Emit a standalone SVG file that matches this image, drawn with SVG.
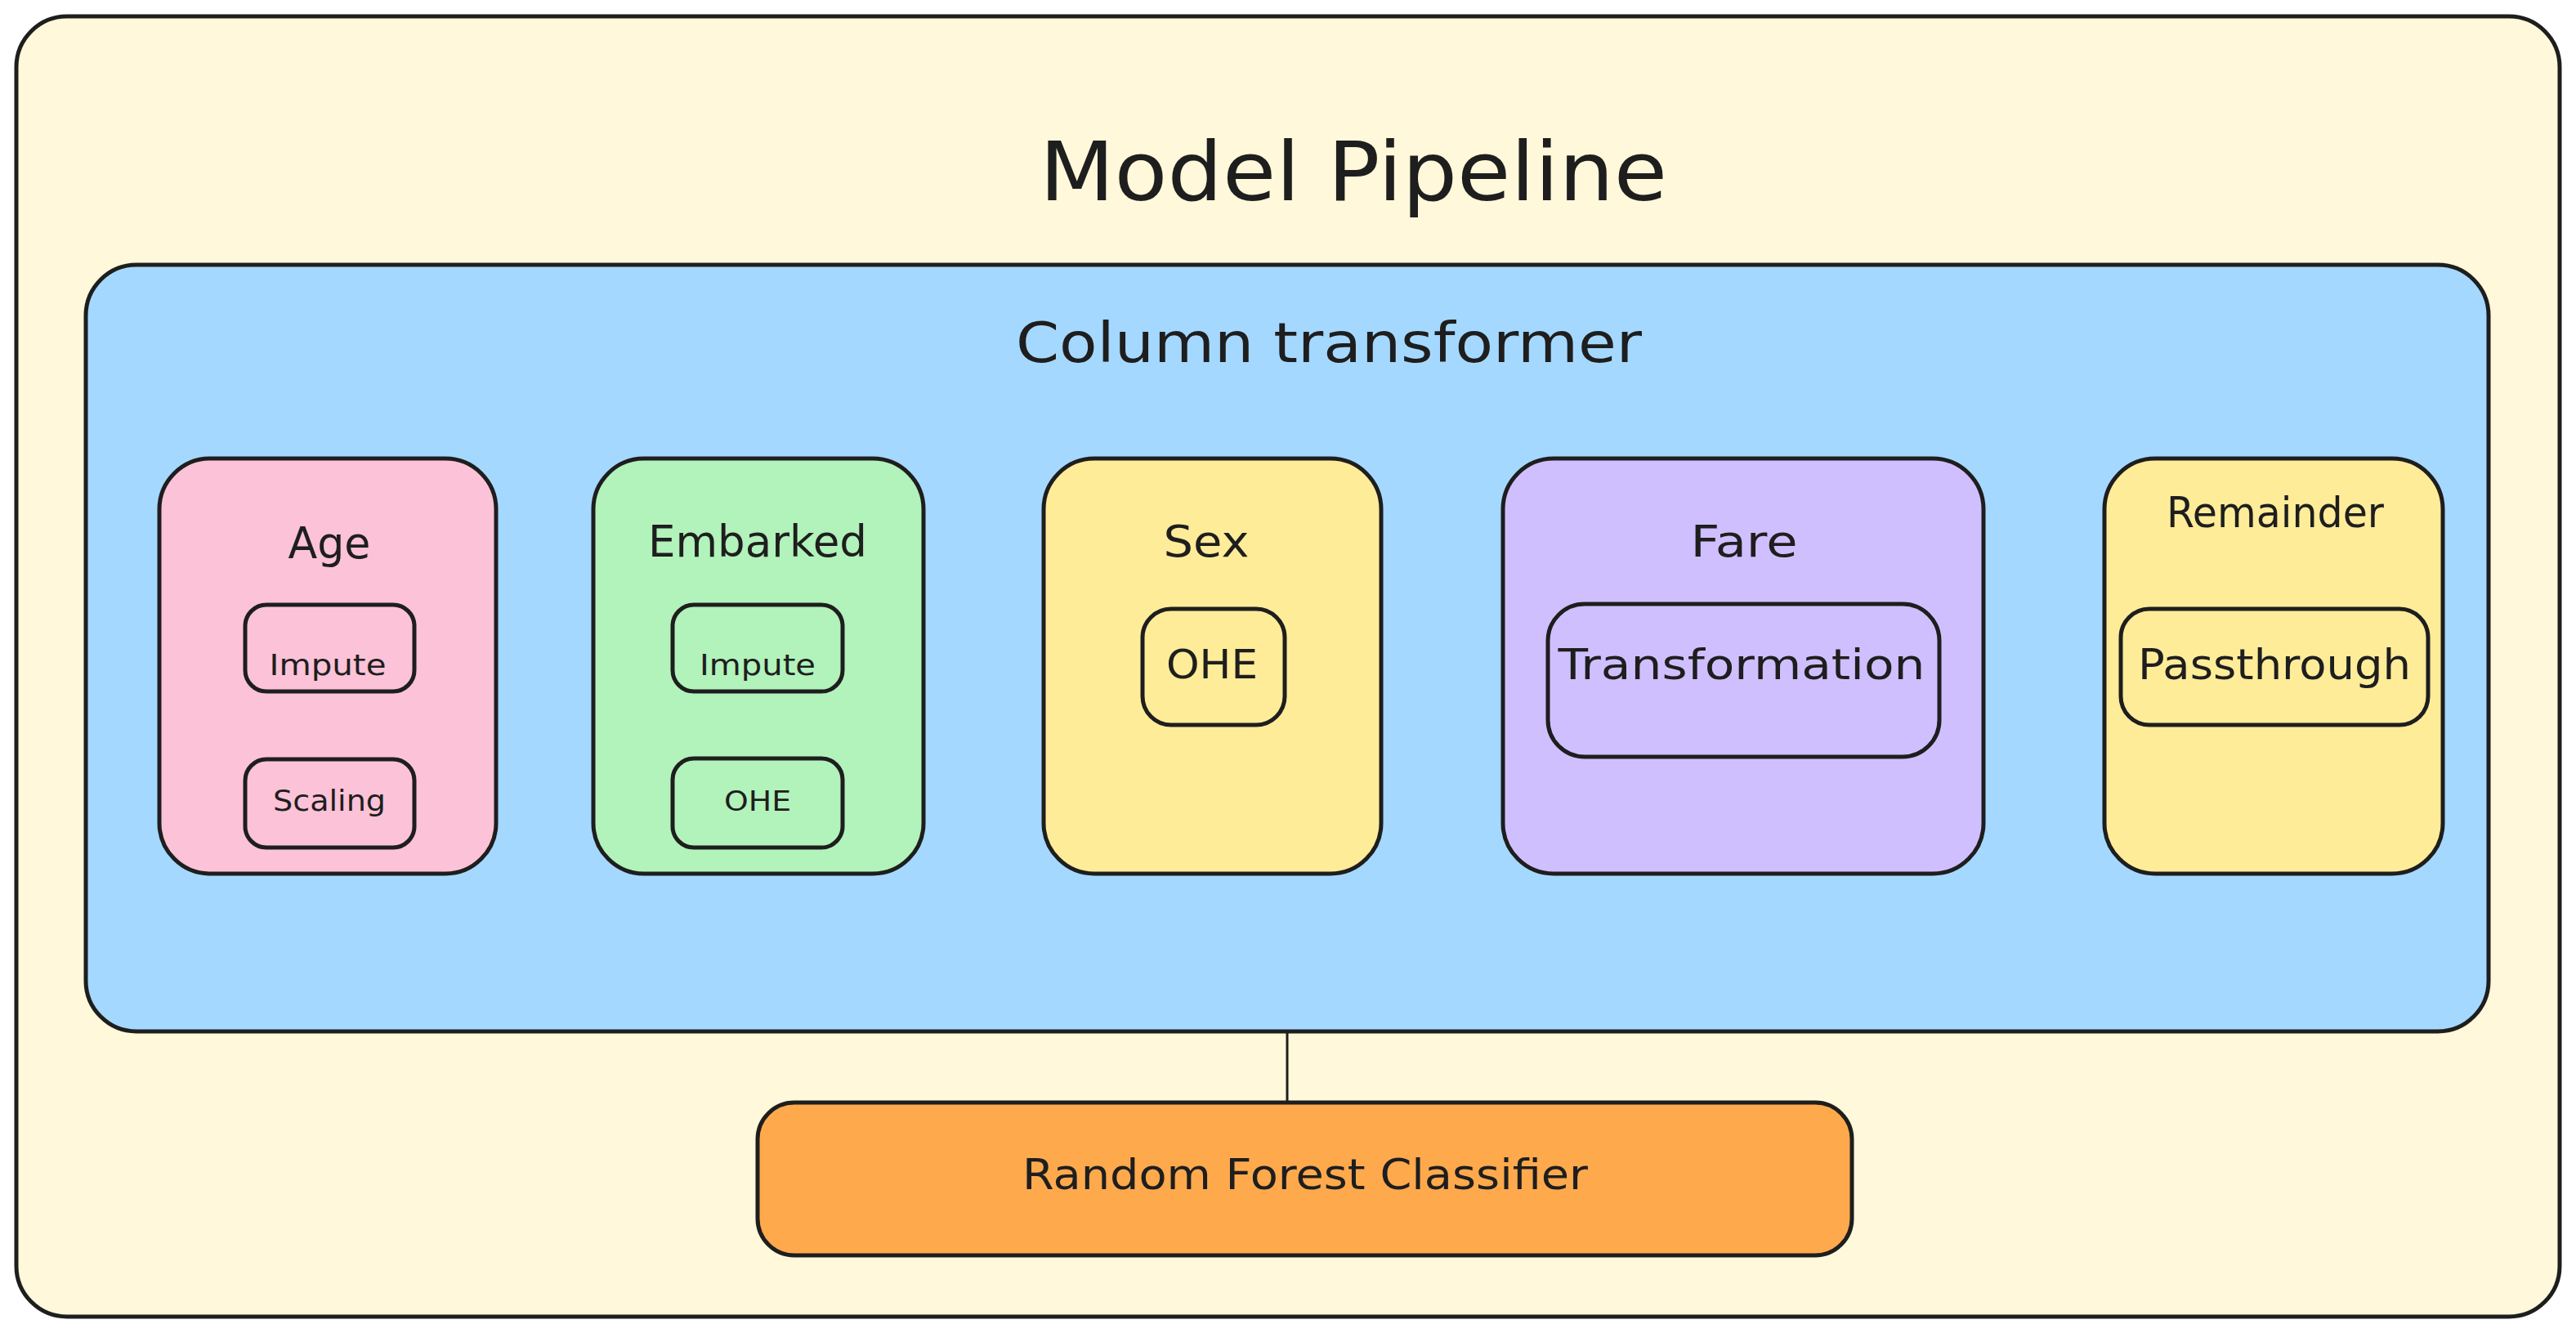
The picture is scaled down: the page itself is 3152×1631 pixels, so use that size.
<svg xmlns="http://www.w3.org/2000/svg" width="3152" height="1631" viewBox="0 0 3152 1631">
<style>
.box{stroke:#1e1e1e;stroke-width:5;stroke-linejoin:round}
.t{font-family:"DejaVu Sans","Liberation Sans",sans-serif;fill:#1e1e1e;text-anchor:middle}
.edge{stroke:#1e1e1e;stroke-width:3;fill:none}
</style>
<rect width="3152" height="1631" fill="#ffffff"/>
<g id="model-pipeline">
<rect class="box" x="20" y="20" width="3112" height="1591" rx="62" fill="#fff8da"/>
<text class="t" x="1656" y="245" font-size="100" textLength="768" lengthAdjust="spacingAndGlyphs">Model Pipeline</text>
</g>
<g id="column-transformer">
<rect class="box" x="105" y="324" width="2940" height="938" rx="62" fill="#a5d8ff"/>
<text class="t" x="1626" y="443" font-size="68" textLength="766" lengthAdjust="spacingAndGlyphs">Column transformer</text>
</g>
<g id="age">
<rect class="box" x="195" y="561" width="412" height="508" rx="62" fill="#fcc2d7"/>
<text class="t" x="403" y="683" font-size="54" textLength="101" lengthAdjust="spacingAndGlyphs">Age</text>
</g>
<g id="age-impute">
<rect class="box" x="300" y="740" width="207" height="106" rx="26" fill="#fcc2d7"/>
<text class="t" x="401" y="826" font-size="36" textLength="143" lengthAdjust="spacingAndGlyphs">Impute</text>
</g>
<g id="age-scaling">
<rect class="box" x="300" y="929" width="207" height="108" rx="26" fill="#fcc2d7"/>
<text class="t" x="403" y="992" font-size="36" textLength="138" lengthAdjust="spacingAndGlyphs">Scaling</text>
</g>
<g id="embarked">
<rect class="box" x="726" y="561" width="404" height="508" rx="62" fill="#b2f2bb"/>
<text class="t" x="927" y="681" font-size="54" textLength="268" lengthAdjust="spacingAndGlyphs">Embarked</text>
</g>
<g id="embarked-impute">
<rect class="box" x="823" y="740" width="208" height="106" rx="26" fill="#b2f2bb"/>
<text class="t" x="927" y="826" font-size="36" textLength="142" lengthAdjust="spacingAndGlyphs">Impute</text>
</g>
<g id="embarked-ohe">
<rect class="box" x="823" y="928" width="208" height="109" rx="26" fill="#b2f2bb"/>
<text class="t" x="927" y="992" font-size="34" textLength="82" lengthAdjust="spacingAndGlyphs">OHE</text>
</g>
<g id="sex">
<rect class="box" x="1277" y="561" width="413" height="508" rx="62" fill="#ffec99"/>
<text class="t" x="1476" y="681" font-size="54" textLength="105" lengthAdjust="spacingAndGlyphs">Sex</text>
</g>
<g id="sex-ohe">
<rect class="box" x="1398" y="745" width="174" height="142" rx="35" fill="#ffec99"/>
<text class="t" x="1483" y="830" font-size="50" textLength="112" lengthAdjust="spacingAndGlyphs">OHE</text>
</g>
<g id="fare">
<rect class="box" x="1839" y="561" width="588" height="508" rx="62" fill="#d0bfff"/>
<text class="t" x="2134" y="681" font-size="54" textLength="131" lengthAdjust="spacingAndGlyphs">Fare</text>
</g>
<g id="fare-transformation">
<rect class="box" x="1894" y="739" width="479" height="187" rx="45" fill="#d0bfff"/>
<text class="t" x="2131" y="831" font-size="52" textLength="449" lengthAdjust="spacingAndGlyphs">Transformation</text>
</g>
<g id="remainder">
<rect class="box" x="2575" y="561" width="414" height="508" rx="62" fill="#ffec99"/>
<text class="t" x="2784" y="645" font-size="52" textLength="266" lengthAdjust="spacingAndGlyphs">Remainder</text>
</g>
<g id="remainder-passthrough">
<rect class="box" x="2595" y="745" width="376" height="142" rx="35" fill="#ffec99"/>
<text class="t" x="2783" y="831" font-size="52" textLength="334" lengthAdjust="spacingAndGlyphs">Passthrough</text>
</g>
<g id="connectors">
<line class="edge" x1="1575" y1="1262" x2="1575" y2="1349"/>
</g>
<g id="random-forest">
<rect class="box" x="927" y="1349" width="1339" height="187" rx="45" fill="#ffa94d"/>
<text class="t" x="1597" y="1455" font-size="52" textLength="692" lengthAdjust="spacingAndGlyphs">Random Forest Classifier</text>
</g>
</svg>
